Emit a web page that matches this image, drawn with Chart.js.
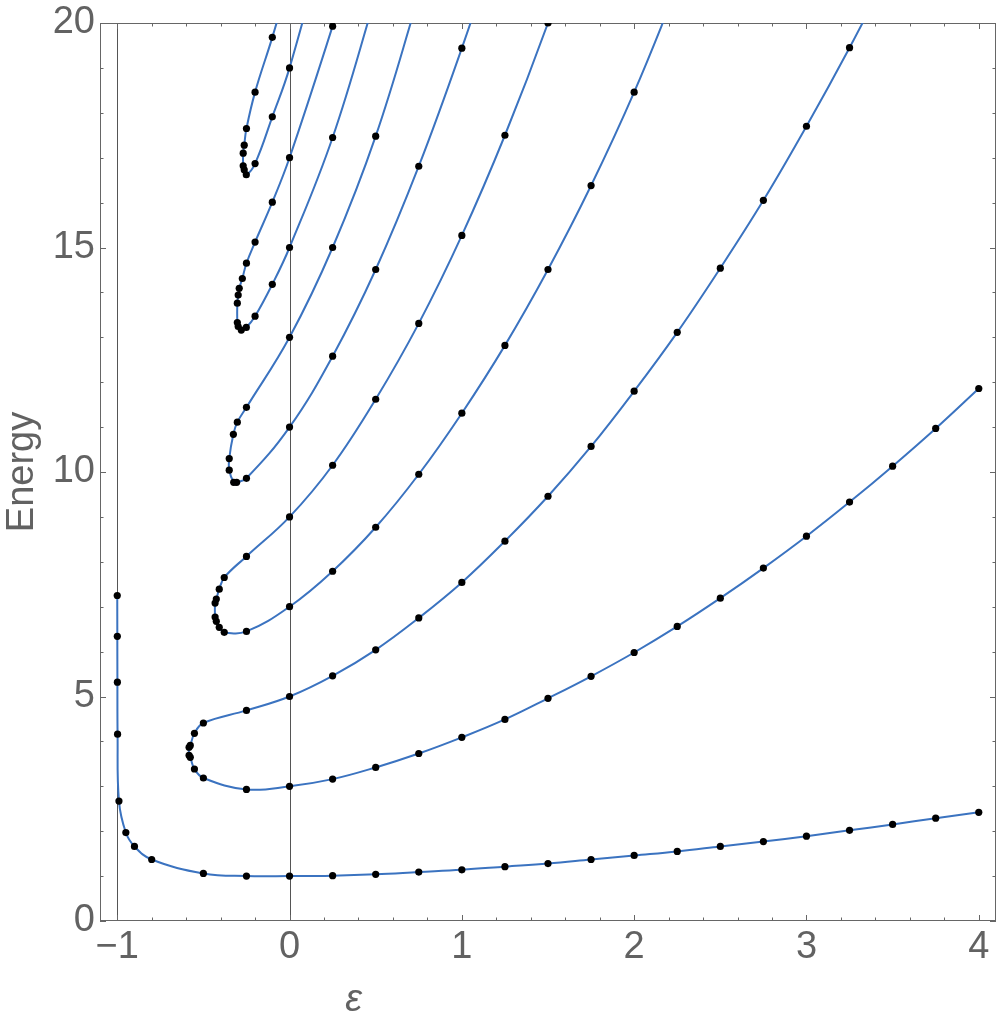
<!DOCTYPE html>
<html>
<head>
<meta charset="utf-8">
<script src="https://cdn.jsdelivr.net/npm/chart.js@4.4.1/dist/chart.umd.min.js"></script>
<style>
  body { margin: 0; background: #fff; }
  canvas { display: block; }
</style>
</head>
<body>
<canvas id="levels" width="1000" height="1024"></canvas>
<script>
// Axis ticks
const xTickValues = [-1, 0, 1, 2, 3, 4];
const yTickValues = [0, 5, 10, 15, 20];
const refLines = [-1, 0];

// Ground state (runs up the eps = -1 line)
const epsGround = [-0.9999, -0.9995, -0.999, -0.998, -0.99, -0.95, -0.9, -0.8, -0.5, -0.25, 0, 0.25, 0.5, 0.75, 1, 1.25, 1.5, 1.75, 2, 2.25, 2.5, 2.75, 3, 3.25, 3.5, 3.75, 4];
const energyGround = [7.25, 6.34, 5.32, 4.16, 2.67, 1.97, 1.66, 1.37, 1.06, 1.0, 1.0, 1.01, 1.04, 1.09, 1.14, 1.21, 1.28, 1.37, 1.46, 1.55, 1.66, 1.77, 1.89, 2.02, 2.15, 2.29, 2.42];

// Levels 1 & 2 (upper branch right->left, round the turn, lower branch left->right)
const epsLoopA = [3.5, 3.25, 3, 2.75, 2.5, 2.25, 2, 1.75, 1.5, 1.25, 1, 0.75, 0.5, 0.25, 0, -0.25, -0.5, -0.552, -0.576, -0.583, -0.583, -0.576, -0.552, -0.5, -0.25, 0, 0.25, 0.5, 0.75, 1, 1.25, 1.5, 1.75, 2, 2.25, 2.5, 2.75, 3, 3.25, 3.5, 3.75, 4];
const energyLoopA = [21.3, 19.45, 17.70, 16.05, 14.54, 13.11, 11.80, 10.57, 9.46, 8.46, 7.54, 6.75, 6.04, 5.46, 5.0, 4.69, 4.41, 4.18, 3.91, 3.87, 3.69, 3.645, 3.385, 3.185, 2.93, 3.0, 3.16, 3.42, 3.73, 4.09, 4.49, 4.96, 5.45, 5.98, 6.56, 7.19, 7.86, 8.57, 9.33, 10.13, 10.97, 11.86];

// Levels 3 & 4
const epsLoopB = [1.75, 1.5, 1.25, 1, 0.75, 0.5, 0.25, 0, -0.25, -0.379, -0.408, -0.425, -0.432, -0.432, -0.425, -0.408, -0.379, -0.25, 0, 0.25, 0.5, 0.75, 1, 1.25, 1.5, 1.75, 2, 2.25];
const energyLoopB = [22.8, 20.0, 17.50, 15.27, 13.31, 11.62, 10.15, 9.0, 8.12, 7.65, 7.39, 7.17, 7.08, 6.77, 6.675, 6.54, 6.43, 6.45, 7.0, 7.79, 8.77, 9.95, 11.31, 12.82, 14.51, 16.38, 18.46, 20.8];

// Levels 5 & 6
const epsLoopC = [0.75, 0.5, 0.25, 0, -0.25, -0.303, -0.326, -0.35, -0.35, -0.324, -0.307, -0.25, 0, 0.25, 0.5, 0.75, 1, 1.25];
const energyLoopC = [20.6, 17.48, 15.0, 13.0, 11.44, 11.11, 10.84, 10.30, 10.04, 9.77, 9.77, 9.86, 11.0, 12.58, 14.51, 16.81, 19.44, 22.3];

// Levels 7 & 8
const epsLoopD = [0.5, 0.25, 0, -0.1, -0.2, -0.25, -0.274, -0.292, -0.298, -0.303, -0.303, -0.298, -0.28, -0.251, -0.2, -0.1, 0, 0.25, 0.5];
const energyLoopD = [23.0, 19.93, 17.0, 16.01, 15.12, 14.65, 14.31, 14.09, 13.94, 13.76, 13.33, 13.24, 13.16, 13.22, 13.47, 14.18, 15.0, 17.45, 20.6];

// Levels 9 & 10
const epsLoopE = [0, -0.1, -0.2, -0.25, -0.263, -0.269, -0.269, -0.263, -0.251, -0.2, -0.1, 0, 0.25];
const energyLoopE = [21.0, 19.68, 18.46, 17.65, 17.28, 17.10, 16.82, 16.73, 16.62, 16.87, 17.91, 19.0, 22.5];

const curves = [
    [epsGround, energyGround],
    [epsLoopA, energyLoopA],
    [epsLoopB, energyLoopB],
    [epsLoopC, energyLoopC],
    [epsLoopD, energyLoopD],
    [epsLoopE, energyLoopE]
];

const gray = '#626262';
const labelFont = { family: '"Liberation Sans", Arial, sans-serif', size: 38 };

function formatTick(v) {
    return String(v).replace('-', '\u2212');
}

// Frame with inward ticks on all four sides, plus the two reference lines
const framePlugin = {
    id: 'frame',
    beforeDatasetsDraw(chart) {
        const { ctx, chartArea: a, scales: { x, y } } = chart;
        ctx.save();
        ctx.lineWidth = 1;

        ctx.strokeStyle = '#555555';
        refLines.forEach(v => {
            const px = Math.round(x.getPixelForValue(v)) + 0.5;
            ctx.beginPath();
            ctx.moveTo(px, a.top);
            ctx.lineTo(px, a.bottom);
            ctx.stroke();
        });

        ctx.strokeStyle = '#666666';
        ctx.strokeRect(a.left + 0.5, a.top + 0.5, a.right - a.left - 1, a.bottom - a.top - 1);

        ctx.beginPath();
        for (let i = -5; i <= 20; i++) {
            const v = i / 5;
            const px = Math.round(x.getPixelForValue(v)) + 0.5;
            const len = (i % 5 === 0) ? 6 : 3.5;
            ctx.moveTo(px, a.bottom);
            ctx.lineTo(px, a.bottom - len);
            ctx.moveTo(px, a.top);
            ctx.lineTo(px, a.top + len);
        }
        for (let v = 0; v <= 20; v++) {
            const py = Math.round(y.getPixelForValue(v)) + 0.5;
            const len = (v % 5 === 0) ? 6 : 3.5;
            ctx.moveTo(a.left, py);
            ctx.lineTo(a.left + len, py);
            ctx.moveTo(a.right, py);
            ctx.lineTo(a.right - len, py);
        }
        ctx.stroke();
        ctx.restore();
    },
    afterDraw(chart) {
        const { ctx, chartArea: a } = chart;
        ctx.save();
        ctx.fillStyle = gray;
        ctx.font = 'italic 38px "Liberation Sans", Arial, sans-serif';
        ctx.textAlign = 'center';
        ctx.textBaseline = 'middle';
        ctx.fillText('\u03b5', a.left + (a.right - a.left) * 0.283, 1000);
        ctx.restore();
    }
};

function buildDatasets() {
    return curves.map(([eps, energy]) => ({
        data: eps.map((e, i) => ({ x: e, y: energy[i] })),
        showLine: true,
        borderColor: '#3b73c0',
        borderWidth: 2,
        tension: 0.4,
        pointRadius: 3.6,
        pointBackgroundColor: '#000000',
        pointBorderWidth: 0
    }));
}

function init() {
    const ctx = document.getElementById('levels').getContext('2d');
    new Chart(ctx, {
        type: 'scatter',
        data: { datasets: buildDatasets() },
        options: {
            responsive: false,
            animation: false,
            layout: { padding: { top: 23, right: 2, left: 0, bottom: 0 } },
            plugins: {
                legend: { display: false },
                tooltip: { enabled: false }
            },
            scales: {
                x: {
                    type: 'linear',
                    min: -1.1,
                    max: 4.1,
                    grid: { display: false, drawTicks: false },
                    border: { display: false },
                    afterBuildTicks: s => { s.ticks = xTickValues.map(v => ({ value: v })); },
                    afterFit: s => { s.height = 103; s.paddingLeft = 0; s.paddingRight = 0; },
                    ticks: {
                        color: gray,
                        font: labelFont,
                        padding: 4,
                        maxRotation: 0,
                        autoSkip: false,
                        callback: v => formatTick(v)
                    }
                },
                y: {
                    type: 'linear',
                    min: 0,
                    max: 20,
                    grid: { display: false, drawTicks: false },
                    border: { display: false },
                    afterBuildTicks: s => { s.ticks = yTickValues.map(v => ({ value: v })); },
                    afterFit: s => { s.width = 100; s.paddingTop = 0; s.paddingBottom = 0; },
                    ticks: {
                        color: gray,
                        font: labelFont,
                        padding: 5,
                        autoSkip: false,
                        callback: v => formatTick(v)
                    },
                    title: {
                        display: true,
                        text: 'Energy',
                        color: gray,
                        font: labelFont,
                        padding: { top: 0, bottom: 0 }
                    }
                }
            }
        },
        plugins: [framePlugin]
    });
}

document.addEventListener('DOMContentLoaded', init);
</script>
</body>
</html>
